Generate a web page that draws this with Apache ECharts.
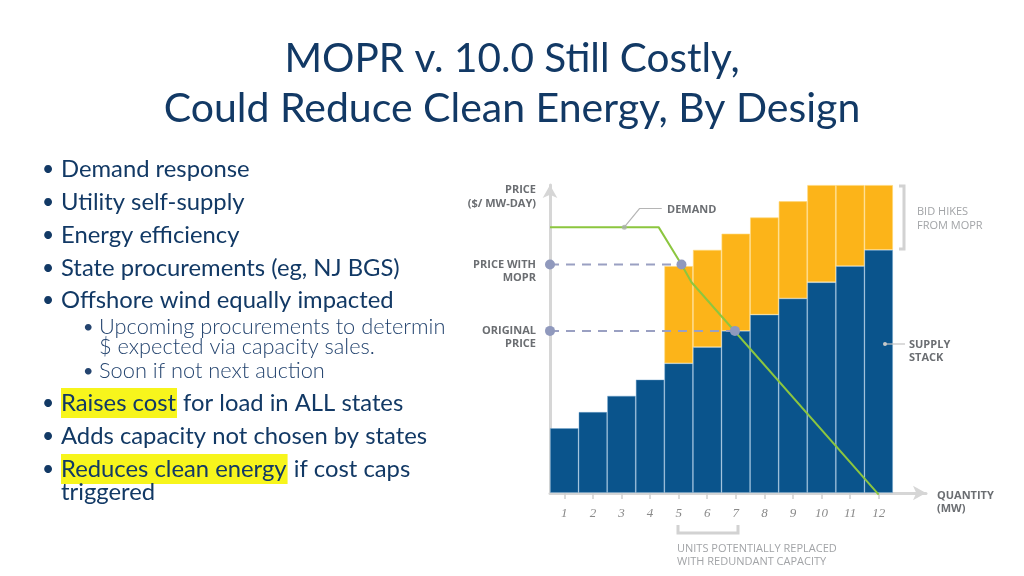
<!DOCTYPE html>
<html><head><meta charset="utf-8">
<script src="https://cdn.jsdelivr.net/npm/echarts@6/dist/echarts.min.js"></script>
<style>html,body{margin:0;padding:0;background:#fff}#c{width:1024px;height:576px}</style>
</head><body><div id="c"></div><script>
// ---- data ----
const categories = ['1','2','3','4','5','6','7','8','9','10','11','12'];
const supplyStack = [4, 5, 6, 7, 8, 9, 10, 11, 12, 13, 14, 15];
const bidHikes = ['-', '-', '-', '-', 6, 6, 6, 6, 6, 6, 5, 4];
const demandCurve = [[0.5, 16.4], [4.3, 16.4], [5.1, 14.1], [5.45, 13], [12, -0.1]];
const priceWithMopr = [[0.5, 14.1], [5.1, 14.1]];
const originalPrice = [[0.5, 10], [6.97, 10]];
const demandMarker = [[3.1, 16.4]];
const demandLeader = [[3.1, 16.4], [3.63, 17.55], [4.41, 17.55]];

const NAVY = '#123965';
const SUBNAVY = '#24446f';
const LBL = '#6b6e72';
const LIGHT = '#a2a4a7';
const F = 'Lato, "Open Sans", sans-serif';

const chart = echarts.init(document.getElementById('c'));

function txt(x, y, text, font, fill, align, extra) {
  return Object.assign({type: 'text', x: x, y: y, z: 50,
    style: Object.assign({text: text, font: font, fill: fill, align: align || 'left', verticalAlign: 'middle'}, extra || {})});
}

const bulletFont = '23.8px ' + F;
const dotFont = '21px ' + F;
const subFont = '300 21.8px ' + F;
const subDot = '18px ' + F;
const bullets = [
  ['Demand response', 169], ['Utility self-supply', 202], ['Energy efficiency', 235],
  ['State procurements (eg, NJ BGS)', 268], ['Offshore wind equally impacted', 300]
];
const graphics = [];
graphics.push(txt(512, 59, 'MOPR v. 10.0 Still Costly,', '40.5px ' + F, NAVY, 'center'));
graphics.push(txt(512, 109, 'Could Reduce Clean Energy, By Design', '41px ' + F, NAVY, 'center'));
bullets.forEach(b => {
  graphics.push(txt(42, b[1], '•', dotFont, NAVY));
  graphics.push(txt(61, b[1], b[0], bulletFont, NAVY));
});
graphics.push(txt(83, 327, '•', subDot, SUBNAVY));
graphics.push(txt(99, 327, 'Upcoming procurements to determin', subFont, SUBNAVY));
graphics.push(txt(99, 347, '$ expected via capacity sales.', subFont, SUBNAVY));
graphics.push(txt(83, 371, '•', subDot, SUBNAVY));
graphics.push(txt(99, 371, 'Soon if not next auction', subFont, SUBNAVY));
const hl = {h: {backgroundColor: '#f7f51c', font: bulletFont, fill: NAVY, padding: [3, 1, 3, 0]}};
graphics.push(txt(42, 403, '•', dotFont, NAVY));
graphics.push(txt(61, 403, '{h|Raises cost} for load in ALL states', bulletFont, NAVY, 'left', {rich: hl}));
graphics.push(txt(42, 436, '•', dotFont, NAVY));
graphics.push(txt(61, 436, 'Adds capacity not chosen by states', bulletFont, NAVY));
graphics.push(txt(42, 469, '•', dotFont, NAVY));
graphics.push(txt(61, 469, '{h|Reduces clean energy} if cost caps', bulletFont, NAVY, 'left', {rich: hl}));
graphics.push(txt(61, 492, 'triggered', bulletFont, NAVY));

// chart annotations
const bf = 'bold 11px "Open Sans", sans-serif';
const nf = '11px "Open Sans", sans-serif';
graphics.push(txt(536, 190, 'PRICE', bf, LBL, 'right'));
graphics.push(txt(536, 204, '($/ MW-DAY)', bf, LBL, 'right'));
graphics.push(txt(536, 265, 'PRICE WITH', bf, LBL, 'right'));
graphics.push(txt(536, 278, 'MOPR', bf, LBL, 'right'));
graphics.push(txt(536, 331, 'ORIGINAL', bf, LBL, 'right'));
graphics.push(txt(536, 344, 'PRICE', bf, LBL, 'right'));
graphics.push(txt(667, 210, 'DEMAND', bf, LBL, 'left'));
graphics.push(txt(909, 345, 'SUPPLY', bf, LBL, 'left'));
graphics.push(txt(909, 358, 'STACK', bf, LBL, 'left'));
graphics.push(txt(937, 496, 'QUANTITY', bf, LBL, 'left'));
graphics.push(txt(937, 509, '(MW)', bf, LBL, 'left'));
graphics.push(txt(917, 212, 'BID HIKES', nf, LIGHT, 'left'));
graphics.push(txt(917, 226, 'FROM MOPR', nf, LIGHT, 'left'));
graphics.push(txt(677, 549, 'UNITS POTENTIALLY REPLACED', nf, LIGHT, 'left'));
graphics.push(txt(677, 562, 'WITH REDUNDANT CAPACITY', nf, LIGHT, 'left'));
graphics.push({type: 'polyline', z: 50, shape: {points: [[899, 186], [904, 186], [904, 249], [899, 249]]},
  style: {stroke: '#d2d2d2', lineWidth: 3, fill: null}});
graphics.push({type: 'polyline', z: 50, shape: {points: [[678, 525], [678, 533], [738, 533], [738, 525]]},
  style: {stroke: '#d2d2d2', lineWidth: 3, fill: null}});
graphics.push({type: 'line', z: 50, shape: {x1: 885, y1: 344, x2: 905, y2: 344},
  style: {stroke: '#c4c4c4', lineWidth: 1.2}});
graphics.push({type: 'circle', z: 50, shape: {cx: 885, cy: 344, r: 2}, style: {fill: '#c8c8c8'}});

const axisGray = '#d6d6d6';
const option = {
  animation: false,
  backgroundColor: '#ffffff',
  graphic: graphics,
  grid: [
    {left: 550, right: 131, top: 185, bottom: 83},
    {left: 550, right: 98, top: 185, bottom: 83}
  ],
  xAxis: [
    {type: 'category', gridIndex: 0, data: categories, boundaryGap: true,
      axisLine: {show: false},
      axisTick: {show: true, alignWithLabel: true, length: 6, lineStyle: {color: '#d0d0d0', width: 1.5}},
      axisLabel: {color: '#8a8a8a', fontFamily: '"Liberation Serif", serif', fontStyle: 'italic', fontSize: 13, margin: 14},
      splitLine: {show: false}},
    {type: 'value', gridIndex: 1, min: 0, max: 1,
      axisLine: {show: true, symbol: ['none', 'arrow'], symbolSize: [11, 13], lineStyle: {color: axisGray, width: 3}},
      axisTick: {show: false}, axisLabel: {show: false}, splitLine: {show: false}},
    {type: 'value', gridIndex: 0, min: 0.5, max: 12.5, show: false}
  ],
  yAxis: [
    {type: 'value', gridIndex: 0, min: 0, max: 19,
      axisLine: {show: true, symbol: ['none', 'arrow'], symbolSize: [11, 13], lineStyle: {color: axisGray, width: 3}},
      axisTick: {show: false}, axisLabel: {show: false}, splitLine: {show: false}},
    {type: 'value', gridIndex: 1, min: 0, max: 19, show: false}
  ],
  series: [
    {type: 'bar', name: 'Supply stack', xAxisIndex: 0, yAxisIndex: 0, stack: 's', data: supplyStack,
      barCategoryGap: '0%', itemStyle: {color: '#0a548c', borderColor: 'rgba(120,170,210,0.55)', borderWidth: 0.8}},
    {type: 'bar', name: 'Bid hikes', xAxisIndex: 0, yAxisIndex: 0, stack: 's', data: bidHikes,
      barCategoryGap: '0%', itemStyle: {color: '#fcb419', borderColor: 'rgba(255,215,120,0.8)', borderWidth: 0.8}},
    {type: 'line', name: 'Demand', xAxisIndex: 2, yAxisIndex: 0, data: demandCurve, clip: false,
      symbol: 'none', lineStyle: {color: '#8cc63f', width: 2}, z: 5},
    {type: 'line', name: 'Price with MOPR', xAxisIndex: 2, yAxisIndex: 0, data: priceWithMopr, clip: false,
      symbol: 'circle', symbolSize: 10, itemStyle: {color: '#9099bd'},
      lineStyle: {color: '#9aa0c2', width: 2, type: [9, 7]}, z: 6},
    {type: 'line', name: 'Original price', xAxisIndex: 2, yAxisIndex: 0, data: originalPrice, clip: false,
      symbol: 'circle', symbolSize: 10, itemStyle: {color: '#9099bd'},
      lineStyle: {color: '#9aa0c2', width: 2, type: [9, 7]}, z: 6},
    {type: 'line', name: 'Demand leader', xAxisIndex: 2, yAxisIndex: 0, data: demandLeader, clip: false,
      symbol: 'none', lineStyle: {color: '#b5b5b5', width: 1.2}, z: 7},
    {type: 'scatter', name: 'Demand marker', xAxisIndex: 2, yAxisIndex: 0, data: demandMarker,
      symbolSize: 5, itemStyle: {color: '#a8b0a8'}, z: 8}
  ]
};
chart.setOption(option);
</script></body></html>
